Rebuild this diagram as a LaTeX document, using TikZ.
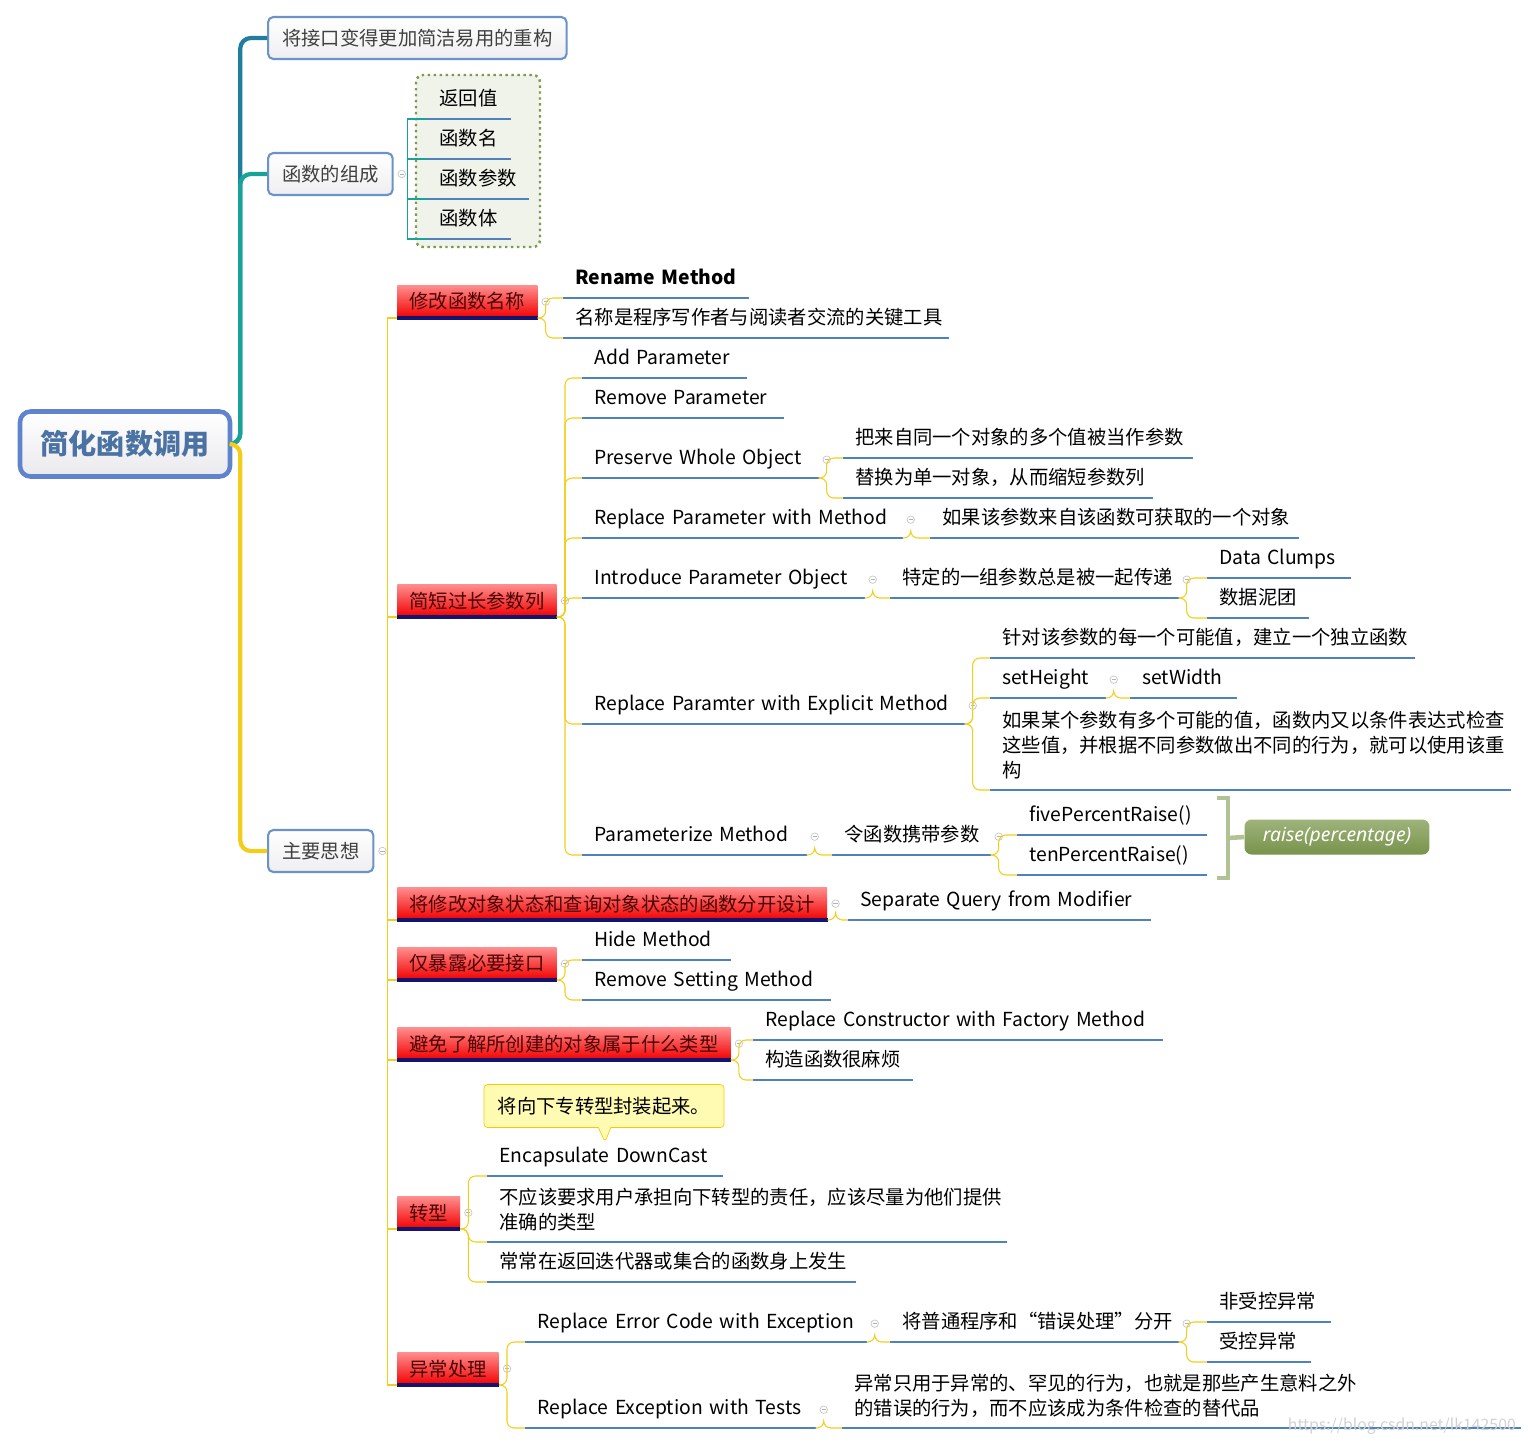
\documentclass[tikz,border=0pt]{standalone}
\usepackage{fontspec}
\setmainfont{Noto Sans CJK SC}
\newfontfamily\latinfont{Noto Sans}
\usetikzlibrary{shapes.callouts}
\definecolor{ulblue}{HTML}{4F81BD}
\definecolor{gold}{HTML}{F2CE1A}
\definecolor{tealA}{HTML}{1F7E9E}
\definecolor{tealB}{HTML}{17A39A}
\definecolor{boxline}{HTML}{6A93C8}
\definecolor{rootblue}{HTML}{4A72A2}
\definecolor{navy}{HTML}{14146E}
\definecolor{olive}{HTML}{7E9A4E}
\tikzset{
  leaf/.style={anchor=south west, align=left, inner xsep=0.24cm, inner ysep=3pt,
    minimum height=0.72cm, font=\fontsize{11}{14}\selectfont,
    append after command={(\tikzlastnode.south west) edge[ul] (\tikzlastnode.south east)}},
  en/.style={font=\fontsize{11}{14}\selectfont},
  ul/.style={draw=ulblue, line width=1.6pt},
  yl/.style={draw=gold, line width=0.6pt, rounded corners=4pt},
  bluebox/.style={draw=boxline, line width=1.2pt, rounded corners=3pt, top color=white,
    bottom color=blue!8!gray!12, inner xsep=0.28cm, minimum height=0.84cm,
    text=black!75, font=\fontsize{11}{13}\selectfont},
  redbox/.style={anchor=south west, top color=red!45!white, bottom color=red!95!black,
    minimum height=0.64cm, inner xsep=0.24cm, text=red!30!black, font=\fontsize{11}{13}\selectfont,
    append after command={(\tikzlastnode.south west) edge[draw=navy, line width=2pt] (\tikzlastnode.south east)}},
  col/.style={circle, draw=gray!45, inner sep=0, minimum size=0.15cm,
    path picture={\draw[gray!60, line width=0.3pt] ([xshift=-1.2pt]path picture bounding box.center) -- ([xshift=1.2pt]path picture bounding box.center);}},
}
% leaf: [options]{name}{x}{y of line}{x of line end}{text}
\newcommand\leaf[6][]{%
  \pgfmathsetmacro\lw{(#5-#3)*0.02-0.48}%
  \node[leaf, text width=\lw cm, #1] (#2) at (#3,#4) {\begin{tabular}{@{}l@{}}#6\end{tabular}};}
\newcommand\br[2]{\draw[yl] (#1.south east) -- ++(8,0) |- (#2.south west);}
\newcommand\col[1]{\node[col] at ([xshift=0.16cm]#1.east) {};}

\begin{document}
\begin{tikzpicture}[x=0.02cm, y=-0.02cm]
  \useasboundingbox (0,0) rectangle (1528,1445);

  % root and first level
  \node[draw=boxline!90!blue, line width=2.6pt, rounded corners=6pt, top color=white,
    bottom color=blue!10!gray!15, minimum width=4.2cm, minimum height=1.3cm,
    text=rootblue, font=\fontsize{16}{18}\selectfont\bfseries] (root) at (125,444) {简化函数调用};
  \node[bluebox, anchor=west] (iface) at (267,38) {将接口变得更加简洁易用的重构};
  \node[bluebox, anchor=west] (parts) at (267,174) {函数的组成};
  \node[bluebox, anchor=west] (idea) at (267,851) {主要思想};
  \draw[tealA, line width=2.4pt, rounded corners=6pt] (root.east) -- ++(8,0) |- (iface.west);
  \draw[tealB, line width=2.4pt, rounded corners=6pt] (root.east) -- ++(8,0) |- (parts.west);
  \draw[gold, line width=2.4pt, rounded corners=6pt] (root.east) -- ++(8,0) |- (idea.west);
  \col{parts} \col{idea}

  % parts of a function
  \draw[olive, dotted, line width=1.4pt, fill=olive!12, rounded corners=4pt] (416,75) rectangle (540,247);
  \leaf{ret}{427}{119}{510}{返回值}
  \leaf{fname}{427}{159}{510}{函数名}
  \leaf{args}{427}{199}{528}{函数参数}
  \leaf{body}{427}{239}{510}{函数体}
  \foreach \c in {ret,fname,args,body}
    \draw[tealB, line width=0.6pt] (parts.east) ++(14,0) |- (\c.south west);

  % main ideas
  \node[redbox] (rename) at (397,318) {修改函数名称};
  \node[redbox] (shorten) at (397,617) {简短过长参数列};
  \node[redbox] (split) at (397,920) {将修改对象状态和查询对象状态的函数分开设计};
  \node[redbox] (hide) at (397,980) {仅暴露必要接口};
  \node[redbox] (ctor) at (397,1060) {避免了解所创建的对象属于什么类型};
  \node[redbox] (cast) at (397,1229) {转型};
  \node[redbox] (except) at (397,1385) {异常处理};
  \foreach \b in {rename,shorten,split,hide,ctor,cast,except}
    \draw[gold, line width=0.6pt] (idea.east) ++(13,0) |- (\b.south west);
  \foreach \b in {rename,shorten,split,hide,ctor,cast,except} {\col{\b}}

  \leaf[font=\fontsize{11}{14}\selectfont\bfseries]{rm}{563}{298}{748}{Rename Method}
  \leaf{rmwhy}{563}{338}{948}{名称是程序写作者与阅读者交流的关键工具}
  \br{rename}{rm} \br{rename}{rmwhy}

  \leaf[en]{addp}{582}{378}{746}{Add Parameter}
  \leaf[en]{remp}{582}{418}{783}{Remove Parameter}
  \leaf[en]{pwo}{582}{478}{818}{Preserve Whole Object}
  \leaf[en]{rpm}{582}{538}{902}{Replace Parameter with Method}
  \leaf[en]{ipo}{582}{598}{864}{Introduce Parameter Object}
  \leaf[en]{rpem}{582}{724}{964}{Replace Paramter with Explicit Method}
  \leaf[en]{pm}{582}{855}{806}{Parameterize Method}
  \foreach \c in {addp,remp,pwo,rpm,ipo,rpem,pm} {\br{shorten}{\c}}
  \foreach \c in {pwo,rpm,ipo,rpem,pm} {\col{\c}}

  \leaf{pwoa}{843}{458}{1192}{把来自同一个对象的多个值被当作参数}
  \leaf{pwob}{843}{498}{1152}{替换为单一对象，从而缩短参数列}
  \br{pwo}{pwoa} \br{pwo}{pwob}
  \leaf{rpma}{930}{538}{1298}{如果该参数来自该函数可获取的一个对象}
  \br{rpm}{rpma}
  \leaf{ipoa}{890}{598}{1178}{特定的一组参数总是被一起传递}
  \br{ipo}{ipoa} \col{ipoa}
  \leaf[en]{clumps}{1207}{578}{1350}{Data Clumps}
  \leaf{clumpcn}{1207}{618}{1308}{数据泥团}
  \br{ipoa}{clumps} \br{ipoa}{clumpcn}
  \leaf{rpema}{990}{658}{1414}{针对该参数的每一个可能值，建立一个独立函数}
  \leaf[en]{seth}{990}{698}{1105}{setHeight}
  \leaf[en]{setw}{1130}{698}{1236}{setWidth}
  \leaf{rpemb}{990}{790}{1510}{如果某个参数有多个可能的值，函数内又以条件表达式检查\\这些值，并根据不同参数做出不同的行为，就可以使用该重\\构}
  \br{rpem}{rpema} \br{rpem}{seth} \br{rpem}{rpemb} \br{seth}{setw} \col{seth}
  \leaf{pma}{832}{855}{990}{令函数携带参数}
  \br{pm}{pma} \col{pma}
  \leaf[en]{five}{1017}{835}{1206}{fivePercentRaise()}
  \leaf[en]{ten}{1017}{875}{1206}{tenPercentRaise()}
  \br{pma}{five} \br{pma}{ten}
  \node[rounded corners=4pt, top color=olive!75!white, bottom color=olive!95!black,
    text=white, font=\fontsize{11}{13}\selectfont\latinfont\itshape, minimum width=3.7cm,
    minimum height=0.7cm] (raise) at (1337,837) {raise(percentage)};
  \draw[olive!60!white, line width=2.6pt] (1217,798) -- (1228,798) -- (1228,878) -- (1217,878);
  \draw[olive!60!white, line width=2.6pt] (1228,838) -- (raise.west);

  \leaf[en]{sqm}{848}{920}{1150}{Separate Query from Modifier}
  \br{split}{sqm}
  \leaf[en]{hm}{582}{960}{730}{Hide Method}
  \leaf[en]{rsm}{582}{1000}{830}{Remove Setting Method}
  \br{hide}{hm} \br{hide}{rsm}
  \leaf[en]{rcf}{753}{1040}{1162}{Replace Constructor with Factory Method}
  \leaf{rcfa}{753}{1080}{912}{构造函数很麻烦}
  \br{ctor}{rcf} \br{ctor}{rcfa}

  \node[rectangle callout, draw=orange!45!yellow, fill=yellow!30, rounded corners=2pt,
    minimum width=4.8cm, minimum height=0.86cm, font=\fontsize{11}{13}\selectfont,
    callout absolute pointer={(605,1142)}] (note) at (604,1106) {将向下专转型封装起来。};
  \leaf[en]{edc}{487}{1176}{722}{Encapsulate DownCast}
  \leaf{edca}{487}{1242}{1006}{不应该要求用户承担向下转型的责任，应该尽量为他们提供\\准确的类型}
  \leaf{edcb}{487}{1282}{855}{常常在返回迭代器或集合的函数身上发生}
  \br{cast}{edc} \br{cast}{edca} \br{cast}{edcb}

  \leaf[en]{rece}{525}{1342}{866}{Replace Error Code with Exception}
  \leaf[en]{rewt}{525}{1428}{815}{Replace Exception with Tests}
  \br{except}{rece} \br{except}{rewt} \col{rece} \col{rewt}
  \leaf{recea}{890}{1342}{1178}{将普通程序和“错误处理”分开}
  \br{rece}{recea} \col{recea}
  \leaf{unchk}{1207}{1322}{1330}{非受控异常}
  \leaf{chk}{1207}{1362}{1310}{受控异常}
  \br{recea}{unchk} \br{recea}{chk}
  \leaf{rewta}{842}{1428}{1520}{异常只用于异常的、罕见的行为，也就是那些产生意料之外\\的错误的行为，而不应该成为条件检查的替代品}
  \br{rewt}{rewta}

  \node[anchor=east, text=gray!35, font=\fontsize{9}{11}\selectfont] (mark) at (1522,1426) {https://blog.csdn.net/lk142500};
\end{tikzpicture}
\end{document}
